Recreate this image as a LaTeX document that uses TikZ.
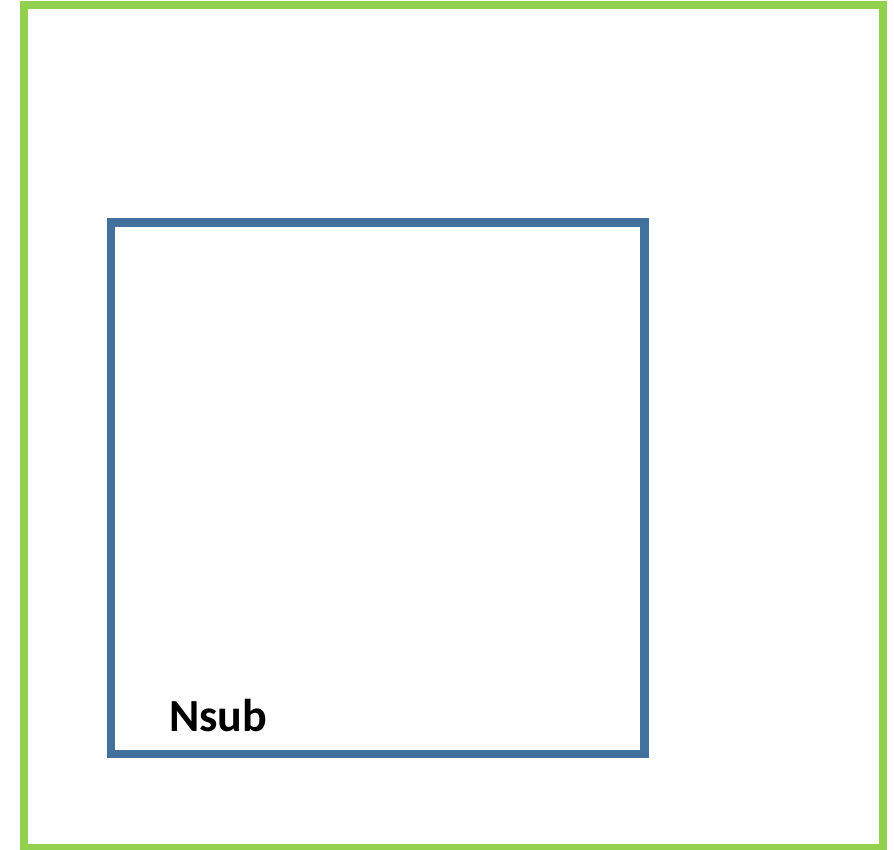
\documentclass[tikz,border=0pt]{standalone}
\usepackage{fontspec}
\setmainfont{Carlito}
\definecolor{outergreen}{HTML}{92D050}
\definecolor{innerblue}{HTML}{41719C}
\begin{document}
\begin{tikzpicture}[x=1pt,y=-1pt,
  outerbox/.style={draw=outergreen,line width=8pt},
  innerbox/.style={draw=innerblue,line width=8.5pt},
  lbl/.style={font=\fontsize{46}{50}\selectfont\bfseries,anchor=base west,inner sep=0pt}]
\useasboundingbox[fill=white] (0,0) rectangle (894,849);
\draw[outerbox] (24,5) rectangle (883,848);
\draw[innerbox] (111,222.5) rectangle (644.5,754);
\node[lbl] (nsub) at (169,731.5) {Nsub};
\end{tikzpicture}
\end{document}
